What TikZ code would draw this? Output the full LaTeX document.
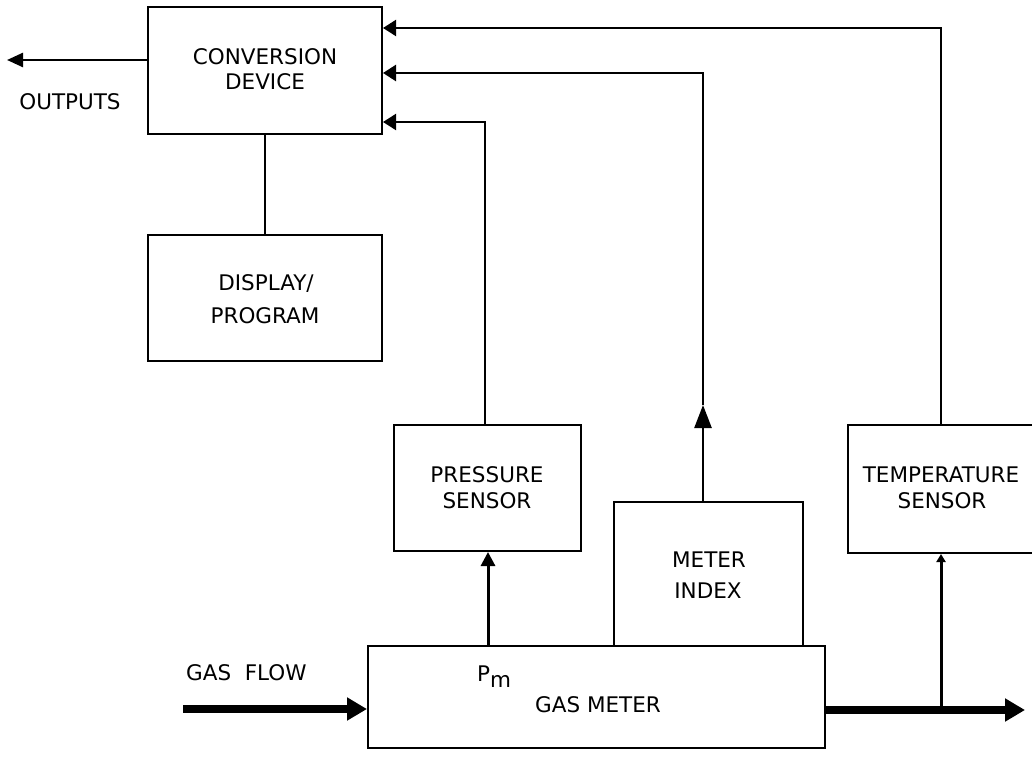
\documentclass[tikz,border=0pt]{standalone}
\usepackage{fontspec}
\setmainfont{DejaVu Sans}
\usetikzlibrary{arrows.meta}
\begin{document}
\begin{tikzpicture}[x=1pt,y=-1pt,
  box/.style={draw,line width=2pt,inner sep=0pt},
  txt/.style={anchor=base,inner sep=0pt,font=\fontsize{21.5}{25}\selectfont},
  sig/.style={line width=2.5pt},
  link/.style={line width=2pt},
  flow/.style={line width=8pt,-{Triangle[length=20pt,width=22pt]}}
]
\useasboundingbox (0,0) rectangle (1032,778);
% boxes
\node[box,minimum width=234pt,minimum height=127pt] (conv) at (265,70.5) {};
\node[box,minimum width=234pt,minimum height=126pt] (disp) at (265,298) {};
\node[box,minimum width=187pt,minimum height=126pt] (press) at (487.5,488) {};
\node[box,minimum width=189pt,minimum height=144pt] (meter) at (708.5,574) {};
\node[box,minimum width=200pt,minimum height=128pt] (temp) at (948,489) {};
\node[box,minimum width=457pt,minimum height=102pt] (gasm) at (596.5,697) {};
% texts
\node[txt] (t1) at (265,65) {CONVERSION};
\node[txt] (t2) at (265,90) {DEVICE};
\node[txt] (t3) at (266,290) {DISPLAY/};
\node[txt] (t4) at (265,323) {PROGRAM};
\node[txt] (t5) at (487,482) {PRESSURE};
\node[txt] (t6) at (487,508) {SENSOR};
\node[txt] (t7) at (709,567) {METER};
\node[txt] (t8) at (708,598) {INDEX};
\node[txt] (t9) at (941,482) {TEMPERATURE};
\node[txt] (t10) at (942,508) {SENSOR};
\node[txt] (t11) at (70,110) {OUTPUTS};
\node[txt,anchor=base west] (t12) at (186,680) {GAS\ \ FLOW};
\node[txt,anchor=base west] (t13) at (477,681) {P\raisebox{-6pt}{m}};
\node[txt] (t14) at (598,712) {GAS METER};
% helper coordinates
\coordinate (outend) at (7,60);
\coordinate (yP) at (0,122);
\coordinate (yM) at (0,73);
\coordinate (yT) at (0,28);
\coordinate (px) at (488,0);
\coordinate (pxt) at (485,0);
\coordinate (mx) at (703,0);
\coordinate (mmid) at (703,405);
\coordinate (tx) at (941,0);
\coordinate (yin) at (0,709);
\coordinate (flowstart) at (183,709);
\coordinate (youtf) at (0,710);
\coordinate (flowend) at (1025,710);
% connectors
\draw[sig,-{Triangle[length=16pt,width=14pt]}] (outend -| conv.west) -- (outend);
\draw[line width=1.6pt] (conv) -- (disp);
\draw[link,-{Triangle[length=13pt,width=16pt]}] (press.north -| pxt) |- (yP -| conv.east);
\draw[sig,-{Triangle[length=23pt,width=17pt]}] (meter.north -| mx) -- (mmid);
\draw[sig,-{Triangle[length=13pt,width=16pt]}] (mmid) |- (yM -| conv.east);
\draw[link,-{Triangle[length=13pt,width=16pt]}] (temp.north -| tx) |- (yT -| conv.east);
\draw[line width=3pt,-{Triangle[length=14pt,width=14pt]}] (gasm.north -| px) -- (press.south -| px);
\draw[line width=3pt,-{Triangle[length=8pt,width=9pt]}] (youtf -| tx) -- (temp.south -| tx);
\draw[flow] (flowstart) -- (yin -| gasm.west);
\draw[flow] (youtf -| gasm.east) -- (flowend);
\end{tikzpicture}
\end{document}
